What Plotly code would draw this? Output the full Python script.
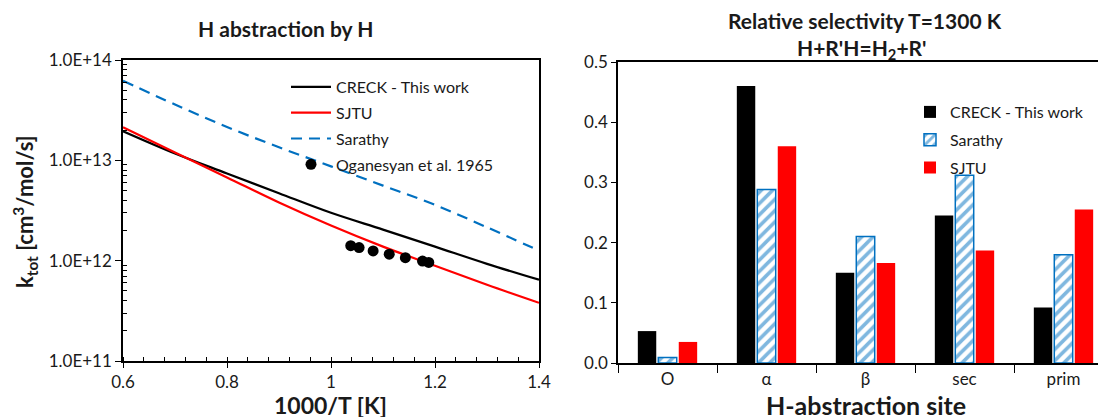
import plotly.graph_objects as go

# Left panel: total rate constant vs 1000/T
inv_t = [0.6, 0.7, 0.8, 0.9, 1.0, 1.1, 1.2, 1.3, 1.4]
k_creck = [1.95e13, 1.17e13, 7.4e12, 4.7e12, 3.0e12, 2.04e12, 1.38e12, 9.3e11, 6.45e11]
k_sjtu = [2.14e13, 1.2e13, 6.76e12, 3.8e12, 2.24e12, 1.38e12, 8.9e11, 5.75e11, 3.8e11]
k_sarathy = [6.2e13, 3.6e13, 2.15e13, 1.35e13, 8.7e12, 5.6e12, 3.6e12, 2.15e12, 1.26e12]

exp_x = [1.038, 1.054, 1.081, 1.112, 1.143, 1.176, 1.188]
exp_k = [1.41e12, 1.35e12, 1.25e12, 1.16e12, 1.07e12, 0.99e12, 0.96e12]

# Right panel: relative selectivity at 1300 K
sites = ["O", "α", "β", "sec", "prim"]
sel_creck = [0.053, 0.460, 0.150, 0.245, 0.092]
sel_sarathy = [0.009, 0.288, 0.210, 0.312, 0.180]
sel_sjtu = [0.035, 0.360, 0.166, 0.187, 0.255]

# the page body has an 8px margin, so the figure is drawn 8px in from the corner
OFF = 8
W, H = 1106 - OFF, 417 - OFF
FONT = "Lato, Carlito, Calibri, sans-serif"
BLUE = "#0070C0"
TXT = "#1a1a1a"


def px_x(p):
    return min(max((p - OFF) / W, 0), 1)


def px_y(p):
    return min(max(1 - (p - OFF) / H, 0), 1)


fig = go.Figure()

fig.add_trace(go.Scatter(x=inv_t, y=k_creck, mode="lines", name="CRECK - This work",
                         line=dict(color="black", width=2.2, shape="spline"),
                         legend="legend", legendgroup="a"))
fig.add_trace(go.Scatter(x=inv_t, y=k_sjtu, mode="lines", name="SJTU",
                         line=dict(color="#ff0000", width=2.2, shape="spline"),
                         legend="legend", legendgroup="b"))
fig.add_trace(go.Scatter(x=inv_t, y=k_sarathy, mode="lines", name="Sarathy",
                         line=dict(color=BLUE, width=2.2, dash="11px,7px", shape="spline"),
                         legend="legend", legendgroup="c"))
fig.add_trace(go.Scatter(x=exp_x, y=exp_k, mode="markers", name="Oganesyan et al. 1965",
                         marker=dict(color="black", size=11), legend="legend", legendgroup="d"))

fig.add_trace(go.Bar(x=sites, y=sel_creck, name="CRECK - This work", xaxis="x2", yaxis="y2",
                     marker=dict(color="black", line=dict(width=0)),
                     legend="legend2", legendgroup="e"))
fig.add_trace(go.Bar(x=sites, y=sel_sarathy, name="Sarathy", xaxis="x2", yaxis="y2",
                     marker=dict(color="white", line=dict(color=BLUE, width=1.5),
                                 pattern=dict(shape="/", fgcolor=BLUE, bgcolor="white",
                                              size=8, solidity=0.45)),
                     legend="legend2", legendgroup="f"))
fig.add_trace(go.Bar(x=sites, y=sel_sjtu, name="SJTU", xaxis="x2", yaxis="y2",
                     marker=dict(color="#ff0000", line=dict(width=0)),
                     legend="legend2", legendgroup="g"))

minor_logs = [m * 10 ** e for e in (11, 12, 13) for m in range(2, 10)]

# right axis: category width ~99px starting at x=618, cut by the page edge
cat_w = 99
x2_end = -0.5 + (1106 - 618) / cat_w

fig.update_layout(
    width=W, height=H,
    margin=dict(l=0, r=0, t=0, b=0, autoexpand=False),
    paper_bgcolor="white", plot_bgcolor="white",
    font=dict(family=FONT, size=17, color=TXT),
    barmode="group", bargap=0.38, bargroupgap=0.1,
    xaxis=dict(domain=[px_x(123), px_x(539)], range=[0.6, 1.4], dtick=0.2,
               showline=True, linecolor="black", linewidth=1.5, mirror=True,
               ticks="outside", ticklen=5, tickcolor="black", showgrid=False, zeroline=False,
               minor=dict(dtick=0.04, ticks="inside", ticklen=4, tickcolor="black"),
               tickfont=dict(size=17), anchor="y", automargin=False),
    yaxis=dict(domain=[px_y(361), px_y(60)], type="log", range=[11, 14],
               tickvals=[1e11, 1e12, 1e13, 1e14],
               ticktext=["1.0E+11", "1.0E+12", "1.0E+13", "1.0E+14"],
               showline=True, linecolor="black", linewidth=1.5, mirror=True,
               ticks="outside", ticklen=6, tickcolor="black", showgrid=False, zeroline=False,
               minor=dict(tickvals=minor_logs, ticks="inside", ticklen=4, tickcolor="black"),
               tickfont=dict(size=17), anchor="x", automargin=False),
    xaxis2=dict(domain=[px_x(618), 1.0], range=[-0.5, x2_end], type="category",
                showline=True, linecolor="black", linewidth=1.5, mirror=True,
                ticks="outside", tickson="boundaries", ticklen=8, tickcolor="black",
                showgrid=False, zeroline=False, tickfont=dict(size=17), anchor="y2",
                automargin=False),
    yaxis2=dict(domain=[px_y(363), px_y(62)], range=[0, 0.5], dtick=0.1, tickformat=".1f",
                showline=True, linecolor="black", linewidth=1.5,
                ticks="outside", ticklen=5, tickcolor="black", showgrid=False, zeroline=False,
                tickfont=dict(size=17), anchor="x2", automargin=False),
    legend=dict(x=px_x(286), y=px_y(70), xanchor="left", yanchor="top",
                bgcolor="rgba(0,0,0,0)", font=dict(size=16), itemwidth=40,
                traceorder="grouped", tracegroupgap=2),
    legend2=dict(x=px_x(910), y=px_y(95), xanchor="left", yanchor="top",
                 bgcolor="rgba(0,0,0,0)", font=dict(size=16),
                 traceorder="grouped", tracegroupgap=4),
    showlegend=True,
)

annotations = [
    dict(text="<b>H abstraction by H</b>", x=px_x(285), y=px_y(28), font=dict(size=21)),
    dict(text="<b>Relative selectivity T=1300 K</b>", x=px_x(865), y=px_y(21), font=dict(size=21)),
    dict(text="<b>H+R'H=H<sub>2</sub>+R'</b>", x=px_x(862), y=px_y(49), font=dict(size=21)),
    dict(text="<b>1000/T [K]</b>", x=px_x(330), y=px_y(405), font=dict(size=23)),
    dict(text="<b>H-abstraction site</b>", x=px_x(866), y=px_y(405), font=dict(size=25)),
    dict(text="<b>k<sub>tot</sub> [cm<sup>3</sup>/mol/s]</b>", x=px_x(25), y=px_y(212),
         textangle=-90, font=dict(size=22)),
]
for a in annotations:
    fig.add_annotation(xref="paper", yref="paper", showarrow=False,
                       xanchor="center", yanchor="middle", **a)

fig.write_html("out.html")
